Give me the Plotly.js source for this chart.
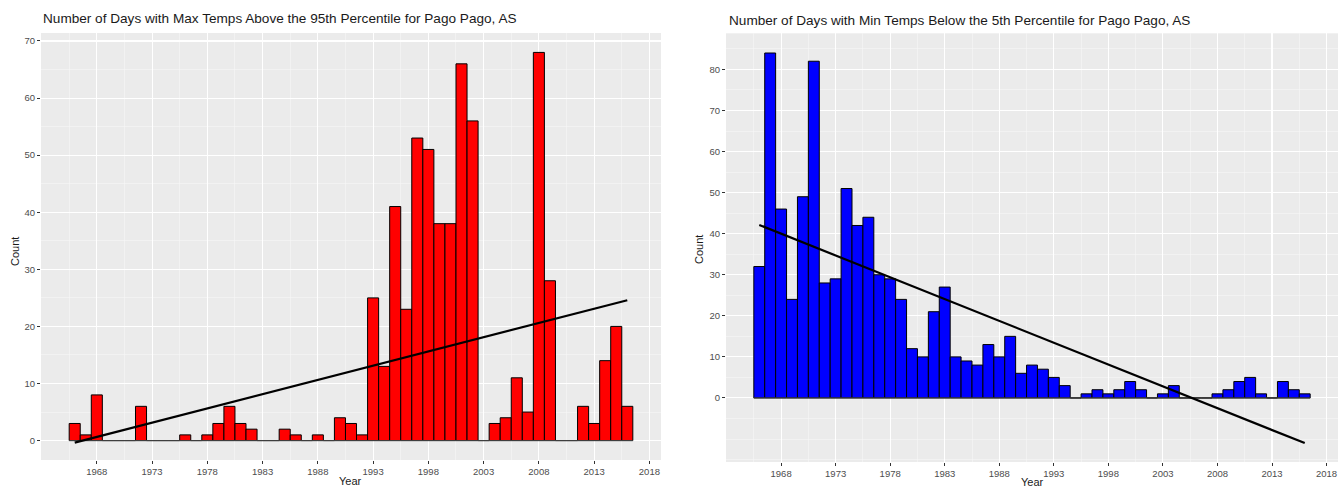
<!DOCTYPE html>
<html>
<head>
<meta charset="utf-8">
<script src="https://cdn.plot.ly/plotly-3.0.1.min.js"></script>
<style>
html,body{margin:0;padding:0;overflow:hidden;background:#fff;}
#chart{width:1342px;height:488px;}
</style>
</head>
<body>
<div id="chart"></div>
<script>
// ---- data ----
const years = [1966,1967,1968,1969,1970,1971,1972,1973,1974,1975,1976,1977,1978,1979,1980,1981,1982,1983,1984,1985,1986,1987,1988,1989,1990,1991,1992,1993,1994,1995,1996,1997,1998,1999,2000,2001,2002,2003,2004,2005,2006,2007,2008,2009,2010,2011,2012,2013,2014,2015,2016];
const maxAbove95 = [3,1,8,0,0,0,6,0,0,0,1,0,1,3,6,3,2,0,0,2,1,0,1,0,4,3,1,25,13,41,23,53,51,38,38,66,56,0,3,4,11,5,68,28,0,0,6,3,14,20,6];
const minBelow5 = [32,84,46,24,49,82,28,29,51,42,44,30,29,24,12,10,21,27,10,9,8,13,10,15,6,8,7,5,3,0,1,2,1,2,4,2,0,1,3,0,0,0,1,2,4,5,1,0,4,2,1];
const xTicks = [1968,1973,1978,1983,1988,1993,1998,2003,2008,2013,2018];
const yTicksLeft = [0,10,20,30,40,50,60,70];
const yTicksRight = [0,10,20,30,40,50,60,70,80];
const titleLeft = "Number of Days with Max Temps Above the 95th Percentile for Pago Pago, AS";
const titleRight = "Number of Days with Min Temps Below the 5th Percentile for Pago Pago, AS";

// ---- helpers ----
function linreg(x, y){
  const n = x.length;
  const mx = x.reduce((a,b)=>a+b,0)/n, my = y.reduce((a,b)=>a+b,0)/n;
  let sxy = 0, sxx = 0;
  for (let i=0;i<n;i++){ sxy += (x[i]-mx)*(y[i]-my); sxx += (x[i]-mx)*(x[i]-mx); }
  const b = sxy/sxx, a = my - b*mx;
  return v => a + b*v;
}
const x0 = Math.min(...years), x1 = Math.max(...years);
const fitL = linreg(years, maxAbove95);
const fitR = linreg(years, minBelow5);

const W = 1342, H = 488;
const FONT = "Liberation Sans, Arial, Helvetica, sans-serif";

function zeroLine(xa, ya){
  return {type:'scatter', mode:'lines', x:[x0-0.5, x1+0.5], y:[0,0], xaxis:xa, yaxis:ya,
          line:{color:'#444444', width:1}, hoverinfo:'skip', showlegend:false};
}
function bars(y, color, xa, ya){
  return {type:'bar', x:years, y:y, width:1, xaxis:xa, yaxis:ya,
          marker:{color:color, line:{color:'#000', width:1}}, showlegend:false};
}
function trend(f, xa, ya){
  return {type:'scatter', mode:'lines', x:[x0, x1], y:[f(x0), f(x1)], xaxis:xa, yaxis:ya,
          line:{color:'#000', width:2.2}, showlegend:false};
}

const data = [
  zeroLine('x','y'), bars(maxAbove95, '#FF0000', 'x','y'), trend(fitL,'x','y'),
  zeroLine('x2','y2'), bars(minBelow5, '#0000FF', 'x2','y2'), trend(fitR,'x2','y2')
];

function xaxis(domain, anchor){
  return {domain:domain, anchor:anchor, range:[1962.95, 2019.05], tickmode:'array', tickvals:xTicks,
          ticktext:xTicks.map(String), ticks:'outside', ticklen:3, tickwidth:1, tickcolor:'#333',
          tickfont:{family:FONT, size:9.5, color:'#4D4D4D'}, showgrid:true, gridcolor:'#FFFFFF', gridwidth:1.1,
          zeroline:false, showline:false, fixedrange:true,
          minor:{tickmode:'linear', tick0:1965.5, dtick:5, showgrid:true, gridcolor:'#F6F6F6', gridwidth:0.6, ticks:''}};
}
function yaxis(domain, anchor, range, tv){
  return {domain:domain, anchor:anchor, range:range, tickmode:'array', tickvals:tv, ticktext:tv.map(String),
          ticks:'outside', ticklen:3, tickwidth:1, tickcolor:'#333',
          tickfont:{family:FONT, size:9.5, color:'#4D4D4D'}, showgrid:true, gridcolor:'#FFFFFF', gridwidth:1.1,
          zeroline:false, showline:false, fixedrange:true,
          minor:{tickmode:'linear', tick0:0, dtick:5, showgrid:true, gridcolor:'#F6F6F6', gridwidth:0.6, ticks:''}};
}

const layout = {
  width:W, height:H, margin:{l:0,r:0,t:0,b:0}, paper_bgcolor:'#FFFFFF', plot_bgcolor:'#EBEBEB',
  bargap:0, showlegend:false,
  xaxis: xaxis([41/W, 661/W], 'y'),
  yaxis: yaxis([1-460/H, 1-33/H], 'x', [-3.4, 71.4], yTicksLeft),
  xaxis2: xaxis([726/W, 1338/W], 'y2'),
  yaxis2: yaxis([1-462/H, 1-33.3/H], 'x2', [-15.6, 88.8], yTicksRight),
  annotations: [
    {text:titleLeft, xref:'paper', yref:'paper', x:41/W, y:1-19/H, xanchor:'left', yanchor:'middle', showarrow:false,
     font:{family:FONT, size:13.6, color:'#1A1A1A'}},
    {text:titleRight, xref:'paper', yref:'paper', x:727/W, y:1-20/H, xanchor:'left', yanchor:'middle', showarrow:false,
     font:{family:FONT, size:13.6, color:'#1A1A1A'}},
    {text:'Count', xref:'paper', yref:'paper', x:15/W, y:1-252/H, xanchor:'center', yanchor:'middle', textangle:-90, showarrow:false,
     font:{family:FONT, size:11, color:'#1A1A1A'}},
    {text:'Count', xref:'paper', yref:'paper', x:699/W, y:1-250/H, xanchor:'center', yanchor:'middle', textangle:-90, showarrow:false,
     font:{family:FONT, size:11, color:'#1A1A1A'}},
    {text:'Year', xref:'paper', yref:'paper', x:351/W, y:1-481/H, xanchor:'center', yanchor:'middle', showarrow:false,
     font:{family:FONT, size:11, color:'#1A1A1A'}},
    {text:'Year', xref:'paper', yref:'paper', x:1032/W, y:1-481.5/H, xanchor:'center', yanchor:'middle', showarrow:false,
     font:{family:FONT, size:11, color:'#1A1A1A'}}
  ]
};

Plotly.newPlot('chart', data, layout, {displayModeBar:false, staticPlot:true});
</script>
</body>
</html>
